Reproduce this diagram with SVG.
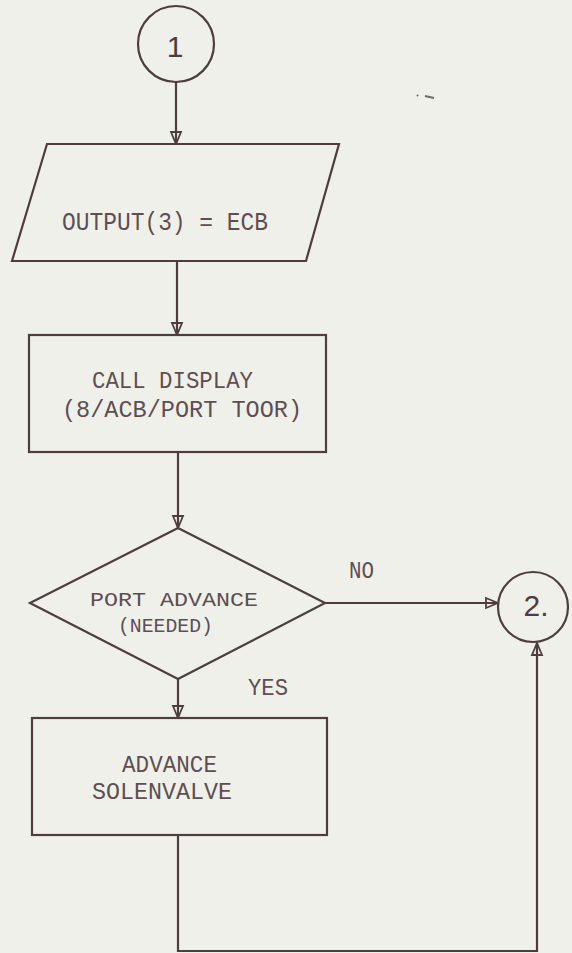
<svg xmlns="http://www.w3.org/2000/svg" width="572" height="953" viewBox="0 0 572 953">
  <defs>
    <style>
      .shape { fill: none; stroke: #4e3d40; stroke-width: 2.2; }
      .conn { fill: none; stroke: #4e3d40; stroke-width: 2.2; }
      .lbl { font-family: "Liberation Mono", "DejaVu Sans Mono", monospace; fill: #5e4e51; font-size: 23px; }
      .sm { font-size: 21px; }
      .num { font-family: "Liberation Sans", Arial, sans-serif; fill: #4e3d40; font-size: 30px; text-anchor: middle; }
    </style>
    <marker id="arr" viewBox="0 0 14 14" refX="13" refY="7" markerWidth="14" markerHeight="14" markerUnits="userSpaceOnUse" orient="auto">
      <path d="M1,2 L13,7 L1,12 Z" fill="none" stroke="#4e3d40" stroke-width="1.8"/>
    </marker>
  </defs>
  <rect width="572" height="953" fill="#f0f0ea"/>

  <g id="connectors">
    <path class="conn" d="M176,82 L176,144" marker-end="url(#arr)"/>
    <path class="conn" d="M177,261 L177,335" marker-end="url(#arr)"/>
    <path class="conn" d="M178,452 L178,528" marker-end="url(#arr)"/>
    <path class="conn" d="M325,603 L498,603" marker-end="url(#arr)"/>
    <path class="conn" d="M178,679 L178,718" marker-end="url(#arr)"/>
    <path class="conn" d="M178,835 L178,951 L537,951 L537,643" marker-end="url(#arr)"/>
    <text class="lbl" x="349" y="578" textLength="25" lengthAdjust="spacingAndGlyphs">NO</text>
    <text class="lbl" x="248" y="695" textLength="40" lengthAdjust="spacingAndGlyphs">YES</text>
  </g>

  <g id="n1">
    <circle class="shape" cx="176" cy="44" r="38"/>
    <text class="num" x="175" y="57">1</text>
  </g>

  <g id="n_output">
    <polygon class="shape" points="47,144 339,144 306,261 12,261"/>
    <text class="lbl" x="62" y="230" textLength="206" lengthAdjust="spacingAndGlyphs" style="font-size:26px">OUTPUT(3) = ECB</text>
  </g>

  <g id="n_call">
    <rect class="shape" x="29" y="335" width="297" height="117"/>
    <text class="lbl" x="92" y="388" textLength="161" lengthAdjust="spacingAndGlyphs">CALL DISPLAY</text>
    <text class="lbl" x="62" y="417" textLength="240" lengthAdjust="spacingAndGlyphs">(8/ACB/PORT TOOR)</text>
  </g>

  <g id="n_decision">
    <polygon class="shape" points="178,528 325,603 178,679 30,603"/>
    <text class="lbl sm" x="90" y="606" textLength="168" lengthAdjust="spacingAndGlyphs">PORT ADVANCE</text>
    <text class="lbl sm" x="118" y="632" textLength="95" lengthAdjust="spacingAndGlyphs">(NEEDED)</text>
  </g>

  <g id="n2">
    <circle class="shape" cx="533" cy="607" r="35"/>
    <text class="num" x="536" y="616">2.</text>
  </g>

  <g id="n_advance">
    <rect class="shape" x="32" y="718" width="295" height="117"/>
    <text class="lbl" x="122" y="772" textLength="95" lengthAdjust="spacingAndGlyphs">ADVANCE</text>
    <text class="lbl" x="92" y="799" textLength="140" lengthAdjust="spacingAndGlyphs">SOLENVALVE</text>
  </g>

  <path d="M417,95 L418,96 M425,96 L434,98" fill="none" stroke="#6a6a6a" stroke-width="2"/>
</svg>
